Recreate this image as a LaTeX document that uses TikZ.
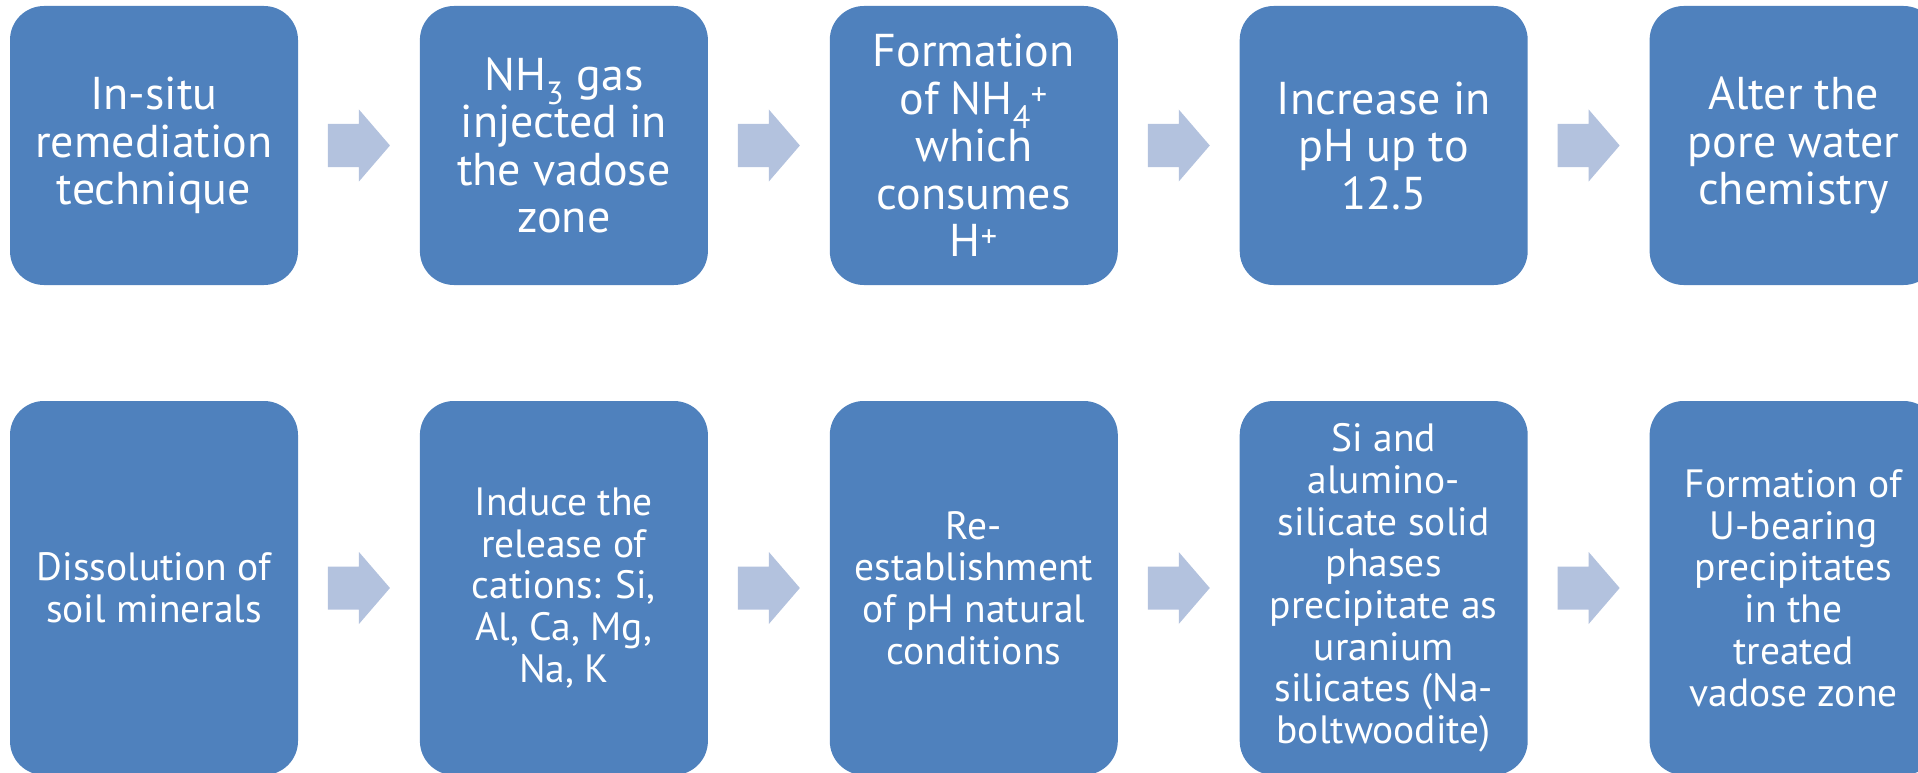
\documentclass[tikz,border=0pt]{standalone}
\usepackage{fontspec}
\setmainfont{PT Sans}
\usetikzlibrary{calc,positioning}

\definecolor{boxblue}{HTML}{4F81BD}
\definecolor{arrowblue}{HTML}{B3C2DE}

\begin{document}
\begin{tikzpicture}[x=1pt,y=-1pt,node distance=121.5pt,
    box/.style={fill=boxblue,text=white,rounded corners=34pt,minimum width=288pt,align=center,inner sep=0pt},
    top/.style={box,minimum height=279pt,font=\fontsize{46}{47.5}\selectfont},
    low/.style={box,minimum height=374pt,font=\fontsize{39.5}{41.7}\selectfont},
    flow/.style={fill=arrowblue}]

    \useasboundingbox (0,0) rectangle (1918,773);

    % Top row of steps
    \node[top] (t1) at (154,145.5) {In-situ\\remediation\\technique};
    \node[top,right=of t1] (t2) {NH\textsubscript{3} gas\\injected in\\the vadose\\zone};
    \node[top,right=of t2] (t3) {Formation\\of NH\textsubscript{4}\textsuperscript{+}\\which\\consumes\\H\textsuperscript{+}};
    \node[top,right=of t3] (t4) {Increase in\\pH up to\\12.5};
    \node[top,right=of t4] (t5) {Alter the\\pore water\\chemistry};

    % Bottom row of steps
    \node[low] (b1) at (154,588) {Dissolution of\\soil minerals};
    \node[low,right=of b1] (b2) {Induce the\\release of\\cations: Si,\\Al, Ca, Mg,\\Na, K};
    \node[low,right=of b2] (b3) {Re-\\establishment\\of pH natural\\conditions};
    \node[low,right=of b3] (b4) {Si and\\alumino-\\silicate solid\\phases\\precipitate as\\uranium\\silicates (Na-\\boltwoodite)};
    \node[low,right=of b4] (b5) {Formation of\\U-bearing\\precipitates\\in the\\treated\\vadose zone};

    % Block arrows between the steps
    \foreach \a/\b in {t1/t2,t2/t3,t3/t4,t4/t5,b1/b2,b2/b3,b3/b4,b4/b5}{
        \coordinate (m) at ($(\a.east)!0.5!(\b.west)$);
        \fill[flow] ($(m)+(-31,-21.5)$) -- ++(31,0) -- ++(0,-14.5) -- ++(31,36)
            -- ++(-31,36) -- ++(0,-14.5) -- ++(-31,0) -- cycle;
    }

\end{tikzpicture}
\end{document}
